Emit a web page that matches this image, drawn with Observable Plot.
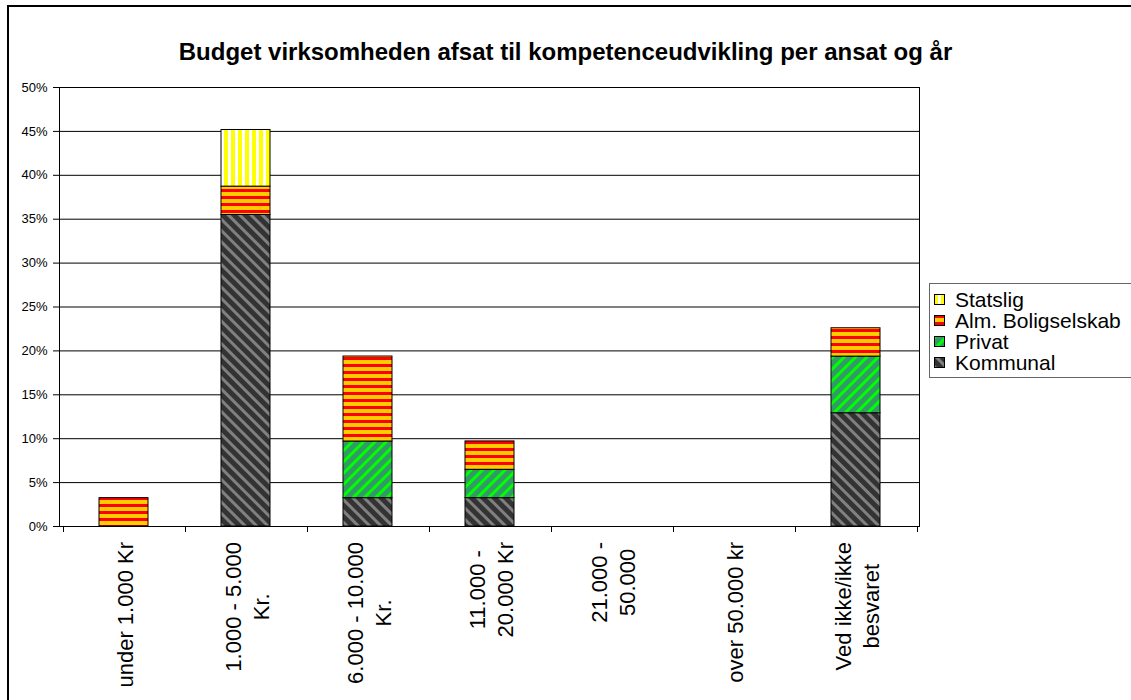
<!DOCTYPE html>
<html><head><meta charset="utf-8">
<script src="https://cdn.jsdelivr.net/npm/d3@7"></script>
<script src="https://cdn.jsdelivr.net/npm/@observablehq/plot@0.6"></script>
<style>
html,body{margin:0;padding:0;background:#fff;overflow:hidden;}
#wrap{position:relative;width:1131px;height:700px;overflow:hidden;font-family:"Liberation Sans",Arial,sans-serif;color:#000;}
#frame{position:absolute;left:7px;top:5px;width:1300px;height:900px;border-left:2px solid #000;border-top:2px solid #000;}
#title{position:absolute;left:0;width:1131px;top:38px;text-align:center;font-weight:bold;font-size:24px;line-height:28px;}
#chart{position:absolute;left:0;top:0;}
#legend{position:absolute;left:929px;top:283px;width:260px;height:93px;border:1px solid #666;background:#fff;}
.item{position:absolute;left:4px;height:21px;font-size:21px;line-height:21px;display:flex;align-items:center;white-space:nowrap;}
.item svg{margin-right:10px;}
</style></head><body>
<div id="wrap"><div id="frame"></div><div id="chart"></div><div id="title"></div><div id="legend"></div></div>
<script>
const titleText = "Budget virksomheden afsat til kompetenceudvikling per ansat og år";
const categories = ["under 1.000 Kr", "1.000 - 5.000\nKr.", "6.000 - 10.000\nKr.", "11.000 -\n20.000 Kr", "21.000 -\n50.000", "over 50.000 kr", "Ved ikke/ikke\nbesvaret"];
const series = ["Kommunal", "Privat", "Alm. Boligselskab", "Statslig"];
const kommunal = [0, 35.48, 3.23, 3.23, 0, 0, 12.90];
const privat   = [0, 0, 6.45, 3.23, 0, 0, 6.45];
const alm      = [3.23, 3.23, 9.68, 3.23, 0, 0, 3.23];
const statslig = [0, 6.45, 0, 0, 0, 0, 0];
const yTicks = [0, 5, 10, 15, 20, 25, 30, 35, 40, 45, 50];
const legendOrder = ["Statslig", "Alm. Boligselskab", "Privat", "Kommunal"];

const patternIds = {"Kommunal": "p-kom", "Privat": "p-priv", "Alm. Boligselskab": "p-alm", "Statslig": "p-stat"};
const seriesValues = [kommunal, privat, alm, statslig];
const rows = [];
series.forEach((s, si) => seriesValues[si].forEach((v, i) => { if (v > 0) rows.push({cat: categories[i], series: s, value: v}); }));

document.getElementById("title").textContent = titleText;

const FONT = '"Liberation Sans", Arial, sans-serif';
const plot = Plot.plot({
  width: 930, height: 700,
  marginLeft: 59, marginRight: 11, marginTop: 87, marginBottom: 174,
  style: {background: "transparent", color: "black", fontFamily: FONT, fontSize: "13px"},
  x: {domain: categories, paddingInner: 0.6, paddingOuter: 0.3, axis: null},
  y: {domain: [0, 50], axis: null},
  color: {domain: series, range: series.map(s => `url(#${patternIds[s]})`)},
  marks: [
    Plot.gridY(yTicks, {stroke: "black", strokeOpacity: 1}),
    Plot.barY(rows, {x: "cat", y: "value", fill: "series", stroke: "black", strokeWidth: 1}),
    Plot.frame({stroke: "black"}),
    Plot.axisY(yTicks, {tickSize: 6, tickPadding: 6, tickFormat: d => d + "%", fontSize: 13, stroke: "black", label: null}),
    Plot.text(categories, {x: d => d, frameAnchor: "bottom", rotate: -90, textAnchor: "middle", lineAnchor: "middle", fontSize: 22, lineHeight: 1.25, fill: "black"})
  ]
});

const svg = d3.select(plot);
const defs = svg.insert("defs", ":first-child");
function stripes(id, w, h, bg, fg, fx, fy, fw, fh, rot) {
  const p = defs.append("pattern").attr("id", id).attr("patternUnits", "userSpaceOnUse")
    .attr("width", w).attr("height", h);
  if (rot) p.attr("patternTransform", `rotate(${rot})`);
  p.append("rect").attr("width", w).attr("height", h).attr("fill", bg);
  p.append("rect").attr("x", fx).attr("y", fy).attr("width", fw).attr("height", fh).attr("fill", fg);
}
stripes("p-kom", 8, 8, "#333333", "#808080", 0, 0, 3, 8, -45);
stripes("p-priv", 8, 8, "#339966", "#00ff00", 0, 0, 3, 8, 45);
stripes("p-alm", 7, 7, "#ffcc00", "#ff0000", 0, 0, 7, 3, 0);
stripes("p-stat", 7, 7, "#ffffff", "#ffff00", 0, 0, 4, 7, 0);

document.getElementById("chart").append(plot);

// x-axis ticks at category boundaries, from the library's scales
const xs = plot.scale("x"), ys = plot.scale("y");
const step = xs.apply(categories[1]) - xs.apply(categories[0]);
const c0 = xs.apply(categories[0]) + xs.bandwidth / 2;
const y0 = ys.apply(0);
const tg = svg.append("g").attr("stroke", "black");
for (let k = 0; k <= categories.length; k++) {
  const x = Math.round(c0 - step / 2 + k * step) + 0.5;
  tg.append("line").attr("x1", x).attr("x2", x).attr("y1", y0).attr("y2", y0 + 6);
}

// place rotated x labels so their top sits just below the axis
const flat = categories.map(c => c.replace(/\n/g, ""));
const svgTop = plot.getBoundingClientRect().top;
svg.selectAll("text").filter(function() { return flat.includes(this.textContent); }).each(function() {
  const r = this.getBoundingClientRect();
  const shift = (y0 + 16) - (r.top - svgTop);
  const t = this.getAttribute("transform") || "";
  this.setAttribute("transform", `translate(0,${shift}) ${t}`);
});

// legend
const leg = document.getElementById("legend");
legendOrder.forEach((s, i) => {
  const d = document.createElement("div");
  d.className = "item";
  d.style.top = (5 + i * 21) + "px";
  d.innerHTML = `<svg width="11" height="11"><rect x="0.5" y="0.5" width="10" height="10" fill="url(#${patternIds[s]})" stroke="black"/></svg><span></span>`;
  d.querySelector("span").textContent = s;
  leg.append(d);
});
</script>
</body></html>
